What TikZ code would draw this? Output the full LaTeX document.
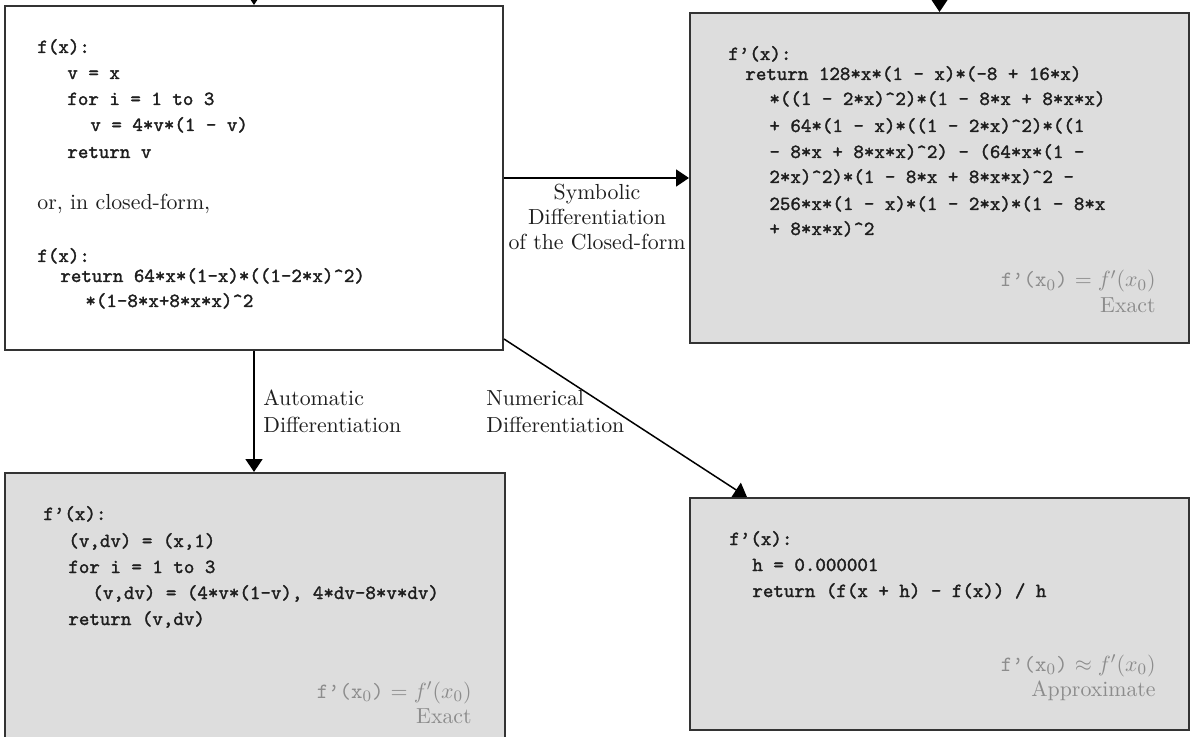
\documentclass[tikz,border=0pt]{standalone}
\usepackage{fontspec}
\newfontfamily\codefont{Latin Modern Mono}[FakeBold=1.6]
\usetikzlibrary{arrows.meta,calc}
\definecolor{boxgray}{HTML}{DDDDDD}
\definecolor{boxline}{HTML}{333333}
\definecolor{codeink}{HTML}{1E1E1E}
\definecolor{noteink}{HTML}{8C8C8C}
\newcommand\caret{\textasciicircum}
\begin{document}
\begin{tikzpicture}[x=0.5pt,y=-0.5pt,
  box/.style={draw=boxline,line width=1pt,rectangle,inner sep=0pt},
  code/.style={inner sep=0pt,anchor=base west,text=codeink,font=\codefont\fontsize{10}{13}\selectfont},
  lbl/.style={inner sep=0pt,text=codeink,font=\fontsize{10.9}{13}\selectfont},
  note/.style={inner sep=0pt,anchor=base east,text=noteink,font=\fontsize{10.9}{13}\selectfont},
  arr/.style={draw=black,line width=0.75pt,-{Triangle[width=8.5pt,length=6.5pt]}}]
\useasboundingbox (0,0) rectangle (1193,737);
\clip (0,0) rectangle (1193,737);
\fill[white] (0,0) rectangle (1193,737);
% boxes
\node[box,fill=white,minimum width=249pt,minimum height=172pt] (tl) at (254,178) {};
\node[box,fill=boxgray,minimum width=249.5pt,minimum height=165pt] (tr) at (939.5,178) {};
\node[box,fill=boxgray,minimum width=250pt,minimum height=136pt] (bl) at (254.5,609) {};
\node[box,fill=boxgray,minimum width=249.5pt,minimum height=116pt] (br) at (939.5,614) {};
% top-left code
\node[code] (a1) at (37,53) {f(x):};
\node[code] (a2) at (67,79) {v = x};
\node[code] (a3) at (67,105) {for i = 1 to 3};
\node[code] (a4) at (90,131) {v = 4*v*(1 - v)};
\node[code] (a5) at (67,158) {return v};
\node[lbl,anchor=base west] (a6) at (37,210) {or, in closed-form,};
\node[code] (a7) at (37,262) {f(x):};
\node[code] (a8) at (60,282) {return 64*x*(1-x)*((1-2*x)\caret2)};
\node[code] (a9) at (85,307) {*(1-8*x+8*x*x)\caret2};
% top-right code
\node[code] (b1) at (728,60) {f’(x):};
\node[code] (b2) at (745,80) {return 128*x*(1 - x)*(-8 + 16*x)};
\node[code] (b3) at (769,105) {*((1 - 2*x)\caret2)*(1 - 8*x + 8*x*x)};
\node[code] (b4) at (769,132) {+ 64*(1 - x)*((1 - 2*x)\caret2)*((1};
\node[code] (b5) at (769,158) {- 8*x + 8*x*x)\caret2) - (64*x*(1 -};
\node[code] (b6) at (769,183) {2*x)\caret2)*(1 - 8*x + 8*x*x)\caret2 -};
\node[code] (b7) at (769,210) {256*x*(1 - x)*(1 - 2*x)*(1 - 8*x};
\node[code] (b8) at (769,235) {+ 8*x*x)\caret2};
\node[note] (b9) at (1156,287) {\texttt{f’(x$_0$)} $= f'(x_0)$};
\node[note] (b10) at (1156,313) {Exact};
% bottom-left code
\node[code] (c1) at (43,520) {f’(x):};
\node[code] (c2) at (68,547) {(v,dv) = (x,1)};
\node[code] (c3) at (68,573) {for i = 1 to 3};
\node[code] (c4) at (92,599) {(v,dv) = (4*v*(1-v), 4*dv-8*v*dv)};
\node[code] (c5) at (68,625) {return (v,dv)};
\node[note] (c6) at (472,698) {\texttt{f’(x$_0$)} $= f'(x_0)$};
\node[note] (c7) at (472,723) {Exact};
% bottom-right code
\node[code] (d1) at (729,545) {f’(x):};
\node[code] (d2) at (752,571) {h = 0.000001};
\node[code] (d3) at (752,597) {return (f(x + h) - f(x)) / h};
\node[note] (d4) at (1156,671) {\texttt{f’(x$_0$)} $\approx f'(x_0)$};
\node[note] (d5) at (1156,696) {Approximate};
% connectors
\coordinate (inA) at (254,-40);
\coordinate (inB) at (939.5,-40);
\draw[arr] (inA) -- (tl.north);
\draw[arr] (inB) -- (tr.north);
\draw[arr] (tl.east) -- (tr.west);
\draw[arr] (tl.south) -- (tl.south |- bl.north);
\coordinate (dstart) at ($(tl.south east)+(0,-12)$);
\coordinate (dend) at ($(br.north west)+(58,0)$);
\draw[arr] (dstart) -- (dend);
% connector labels
\node[lbl,anchor=base] (s1) at (597,200) {Symbolic};
\node[lbl,anchor=base] (s2) at (597,225) {Differentiation};
\node[lbl,anchor=base] (s3) at (597,250) {of the Closed-form};
\node[lbl,anchor=base west] (u1) at (263,406) {Automatic};
\node[lbl,anchor=base west] (u2) at (263,432) {Differentiation};
\node[lbl,anchor=base west] (n1) at (486,406) {Numerical};
\node[lbl,anchor=base west] (n2) at (486,432) {Differentiation};
\end{tikzpicture}
\end{document}
